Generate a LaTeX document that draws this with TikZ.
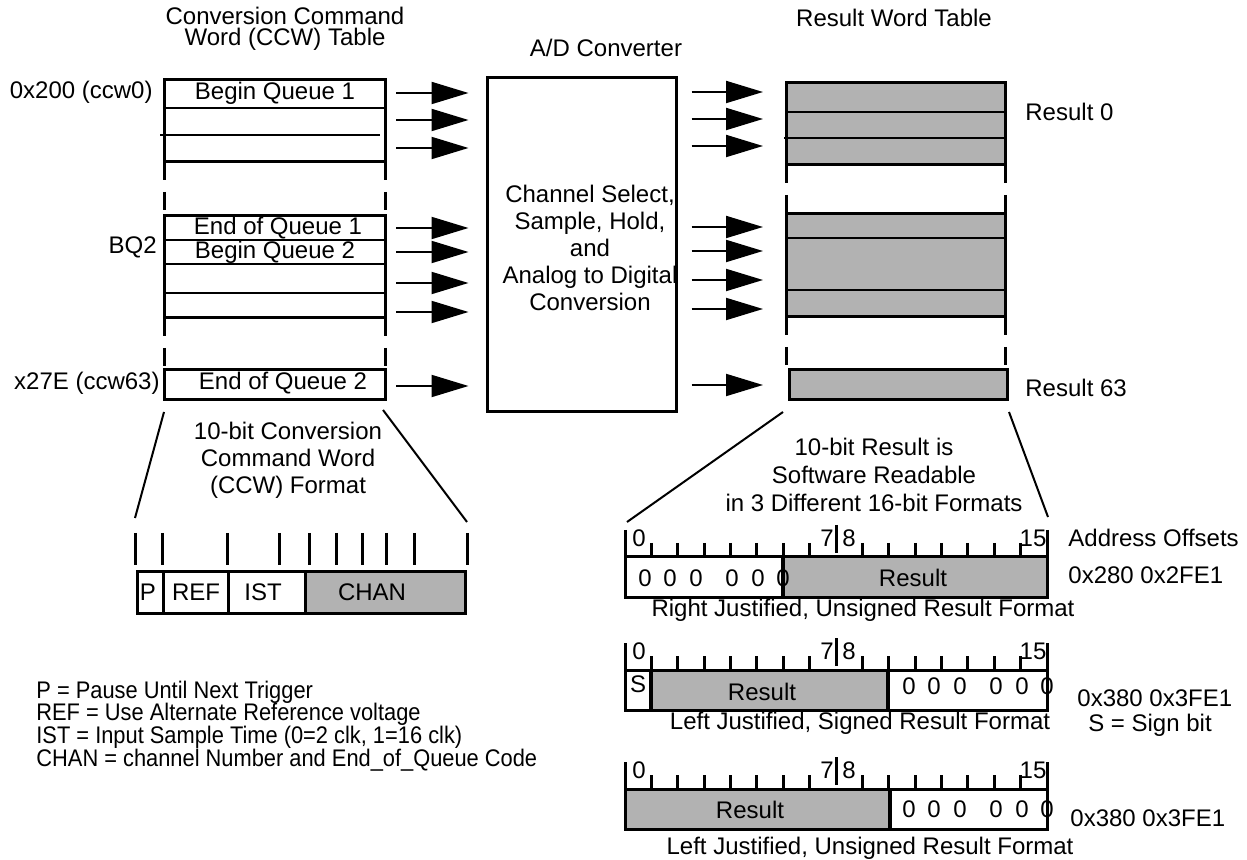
\documentclass[tikz,border=0pt]{standalone}
\usepackage{fontspec}
\setmainfont{Liberation Sans}
\newfontfamily\narrowfont[FakeStretch=0.91]{Liberation Sans}
\usetikzlibrary{arrows.meta}

\begin{document}
\begin{tikzpicture}[x=0.5pt,y=-0.5pt,
    every node/.style={font=\fontsize{12}{13.5}\selectfont, inner sep=0pt},
    bigarrow/.style={line width=1pt, -{Triangle[length=18.5pt,width=11pt]}},
    outline/.style={line width=1.5pt},
    rowline/.style={line width=1.2pt},
    gapline/.style={line width=1.5pt, dash pattern=on 9pt off 6pt},
    resfill/.style={fill=black!30},
    tick/.style={line width=1.5pt}]
\useasboundingbox (0,0) rectangle (1247,860);

% titles
\node[align=center, font=\fontsize{12}{10.5}\selectfont] (ccwtitle) at (285,29) {Conversion Command\\Word (CCW) Table};
\node (adctitle) at (606,48) {A/D Converter};
\node (restitle) at (894,18) {Result Word Table};

% CCW table
\draw[outline] (164,80) rectangle (385,162);
\draw[rowline] (164,108) -- (385,108);
\draw[rowline] (160,135) -- (380,135);
\draw[outline] (164,216) rectangle (385,318);
\foreach \y in {240,264,293}
    \draw[rowline] (164,\y) -- (385,\y);
\draw[outline] (164,370) rectangle (385,400);
\foreach \y/\z in {162/216,318/370} {
    \draw[gapline] (164,\y) -- (164,\z);
    \draw[gapline] (385,\y) -- (385,\z);
}
\node (bq1) at (275,93) {Begin Queue 1};
\node (eq1) at (278,228) {End of Queue 1};
\node (bq2) at (275,252) {Begin Queue 2};
\node (eq2) at (283,383) {End of Queue 2};
\node[anchor=east] (ccw0) at (153,92) {0x200 (ccw0)};
\node[anchor=east] (bq2lbl) at (157,247) {BQ2};
\node[anchor=east] (ccw63) at (160,383) {x27E (ccw63)};
\coordinate (ccwE) at (385,0);

% A/D converter
\node[draw, outline, minimum width=94.5pt, minimum height=167pt] (adc) at (581.5,245) {};
\node[align=center] (adctext) at (590,248) {Channel Select,\\Sample, Hold,\\and\\Analog to Digital\\Conversion};

% result table
\fill[resfill] (786,83) rectangle (1005,165);
\draw[outline] (786,83) rectangle (1005,165);
\draw[rowline] (786,112) -- (1005,112);
\draw[rowline] (784,138) -- (1005,138);
\fill[resfill] (786,214) rectangle (1005,317);
\draw[outline] (786,214) rectangle (1005,317);
\draw[rowline] (786,238) -- (1005,238);
\draw[rowline] (786,290) -- (1005,290);
\fill[resfill] (789,370) rectangle (1007,400);
\draw[outline] (789,370) rectangle (1007,400);
\foreach \y/\z in {165/214,317/370} {
    \draw[gapline] (786,\y) -- (786,\z);
    \draw[gapline] (1005,\y) -- (1005,\z);
}
\node[anchor=west] (res0) at (1025,112) {Result 0};
\node[anchor=west] (res63) at (1025,388) {Result 63};
\coordinate (resW) at (786,0);

% arrows in and out of the converter
\foreach \y in {93,120,148,228,252,283,312,386}
    \draw[bigarrow, shorten <=5.5pt, shorten >=8.5pt] (ccwE |- 0,\y) -- (adc.west |- 0,\y);
\foreach \y in {92,119,146,227,251,280,309,385}
    \draw[bigarrow, shorten <=7pt, shorten >=11.5pt] (adc.east |- 0,\y) -- (resW |- 0,\y);

% CCW format
\draw[line width=1pt] (164,412) -- (135,518);
\draw[line width=1pt] (383,410) -- (467,522);
\node[align=center] (ccwfmt) at (288,460) {10-bit Conversion\\Command Word\\(CCW) Format};
\foreach \x in {135,162,227,279,309,336,362,386,414,467}
    \draw[tick] (\x,533) -- (\x,565);
\fill[resfill] (305,572) rectangle (465,613);
\draw[outline] (137,572) rectangle (465,613);
\draw[outline] (163,572) -- (163,613) (228,572) -- (228,613) (305,572) -- (305,613);
\node (pbit) at (148,592) {P};
\node (refbit) at (196,592) {REF};
\node (istbit) at (263,592) {IST};
\node (chanbit) at (372,592) {CHAN};

% legend
\node[align=left, anchor=west, font=\narrowfont\fontsize{12}{11.4}\selectfont] (legend) at (36,726)
    {P = Pause Until Next Trigger\\REF = Use Alternate Reference voltage\\IST = Input Sample Time (0=2 clk, 1=16 clk)\\CHAN = channel Number and End\_of\_Queue Code};

% result formats
\draw[line width=1pt] (783,412) -- (627,522);
\draw[line width=1pt] (1009,412) -- (1048,517);
\node[align=center, font=\fontsize{12}{14}\selectfont] (resfmt) at (874,475) {10-bit Result is\\Software Readable\\in 3 Different 16-bit Formats};
\node[anchor=west] (addroff) at (1068,538) {Address Offsets};

\fill[resfill] (783,557) rectangle (1047,598);
\fill[resfill] (651,670) rectangle (888,709);
\fill[resfill] (625,789) rectangle (890,828);

\foreach \t in {557,670,789} {
    \draw[tick] (625,{\t-27}) -- (625,\t) (1047,{\t-27}) -- (1047,\t);
    \draw[tick] (836,{\t-32}) -- (836,{\t-4});
    \foreach \k in {1,2,3,4,5,6,7,9,10,11,12,13,14,15}
        \draw[tick] ({625+\k*26.375},{\t-14}) -- ({625+\k*26.375},\t);
    \node (bz\t) at (639,{\t-19}) {0};
    \node (bs\t) at (827,{\t-19}) {7};
    \node (be\t) at (849,{\t-19}) {8};
    \node (bf\t) at (1033,{\t-19}) {15};
    \draw[outline] (625,\t) rectangle (1047,{\t+40});
}

% right justified, unsigned
\draw[line width=2pt] (783,557) -- (783,597);
\foreach \d [count=\i] in {20,45,71,107,133,158}
    \node (za\i) at ({625+\d},578) {0};
\node (resa) at (913,578) {Result};
\node (fmta) at (863,610) {Right Justified, Unsigned Result Format};
\node[anchor=west] (addra) at (1068,575) {0x280 0x2FE1};

% left justified, signed
\draw[line width=2pt] (651,670) -- (651,710) (888,670) -- (888,710);
\node (sbit) at (638,684) {S};
\node (resb) at (762,692) {Result};
\foreach \d [count=\i] in {20,45,71,107,133,158}
    \node (zb\i) at ({889+\d},686) {0};
\node (fmtb) at (860,723) {Left Justified, Signed Result Format};
\node[anchor=west] (addrb) at (1077,698) {0x380 0x3FE1};
\node (signbit) at (1150,725) {S = Sign bit};

% left justified, unsigned
\draw[line width=2pt] (890,789) -- (890,829);
\node (resc) at (750,810) {Result};
\foreach \d [count=\i] in {20,45,71,107,133,158}
    \node (zc\i) at ({889+\d},809) {0};
\node (fmtc) at (870,848) {Left Justified, Unsigned Result Format};
\node[anchor=west] (addrc) at (1070,818) {0x380 0x3FE1};
\end{tikzpicture}
\end{document}
